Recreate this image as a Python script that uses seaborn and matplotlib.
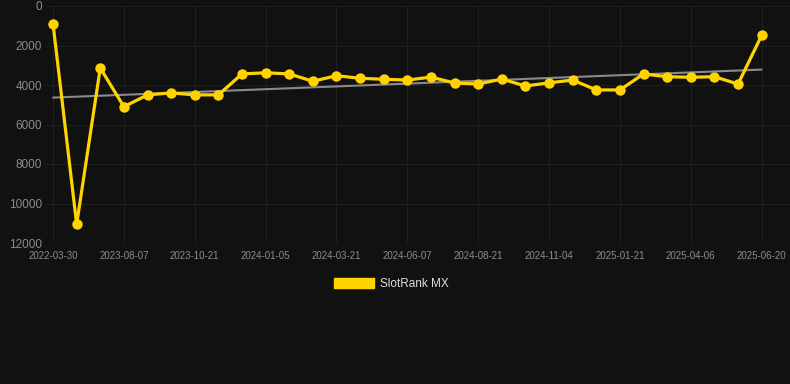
import numpy as np
import pandas as pd
import seaborn as sns
import matplotlib.pyplot as plt
from matplotlib.patches import Patch

# rank values (lower is better, axis inverted)
rank = [900, 11050, 3140, 5100, 4500, 4400, 4500, 4500, 3440, 3380, 3440,
        3810, 3530, 3660, 3710, 3750, 3600, 3900, 3950, 3700, 4050, 3890,
        3750, 4250, 4250, 3440, 3580, 3610, 3580, 3950, 1490]
tick_labels = ["2022-03-30", "2023-08-07", "2023-10-21", "2024-01-05",
               "2024-03-21", "2024-06-07", "2024-08-21", "2024-11-04",
               "2025-01-21", "2025-04-06", "2025-06-20"]
y_ticks = [0, 2000, 4000, 6000, 8000, 10000, 12000]
series_name = "SlotRank MX"

bg = "#111111"
gold = "#FFD300"

df = pd.DataFrame({"idx": np.arange(len(rank)), "rank": rank})

sns.set_theme(style="dark")
plt.rcParams["font.family"] = ["Liberation Sans", "DejaVu Sans"]

fig = plt.figure(figsize=(7.9, 3.84), dpi=100, facecolor=bg)
ax = fig.add_axes([45 / 790, 1 - 243 / 384, 1 - 45 / 790, 237 / 384])
ax.set_facecolor(bg)

# trend line
sns.regplot(data=df, x="idx", y="rank", scatter=False, ci=None, ax=ax,
            line_kws={"color": "#8a8a8a", "lw": 1.5, "zorder": 2})

sns.lineplot(data=df, x="idx", y="rank", ax=ax, color=gold, lw=2.3,
             marker="o", markersize=7.5, markeredgewidth=0, zorder=3)
for ln in ax.lines[1:]:
    ln.set_solid_joinstyle("miter")

ax.set_ylim(12000, 0)
ax.set_xlim(-0.34, 31.2)
ax.set_yticks(y_ticks)
ax.set_yticklabels([str(v) for v in y_ticks])
ax.set_xticks(df["idx"][::3])
ax.set_xticklabels(tick_labels)
ax.tick_params(axis="y", colors="#8c8c8c", labelsize=8.5, length=0, pad=2)
ax.tick_params(axis="x", colors="#8c8c8c", labelsize=7, length=0, pad=6)
ax.grid(True, color="#1f1f1f", lw=0.8)
ax.set_axisbelow(True)
for s in ax.spines.values():
    s.set_visible(False)
ax.set_xlabel("")
ax.set_ylabel("")

fig.legend(handles=[Patch(color=gold, label=series_name)],
           loc="center", bbox_to_anchor=(0.495, 1 - 284 / 384), frameon=False,
           fontsize=8.5, labelcolor="#dddddd", handlelength=3.4,
           handleheight=1.0, handletextpad=0.5)

fig.savefig("out.png", dpi=100, facecolor=bg)
